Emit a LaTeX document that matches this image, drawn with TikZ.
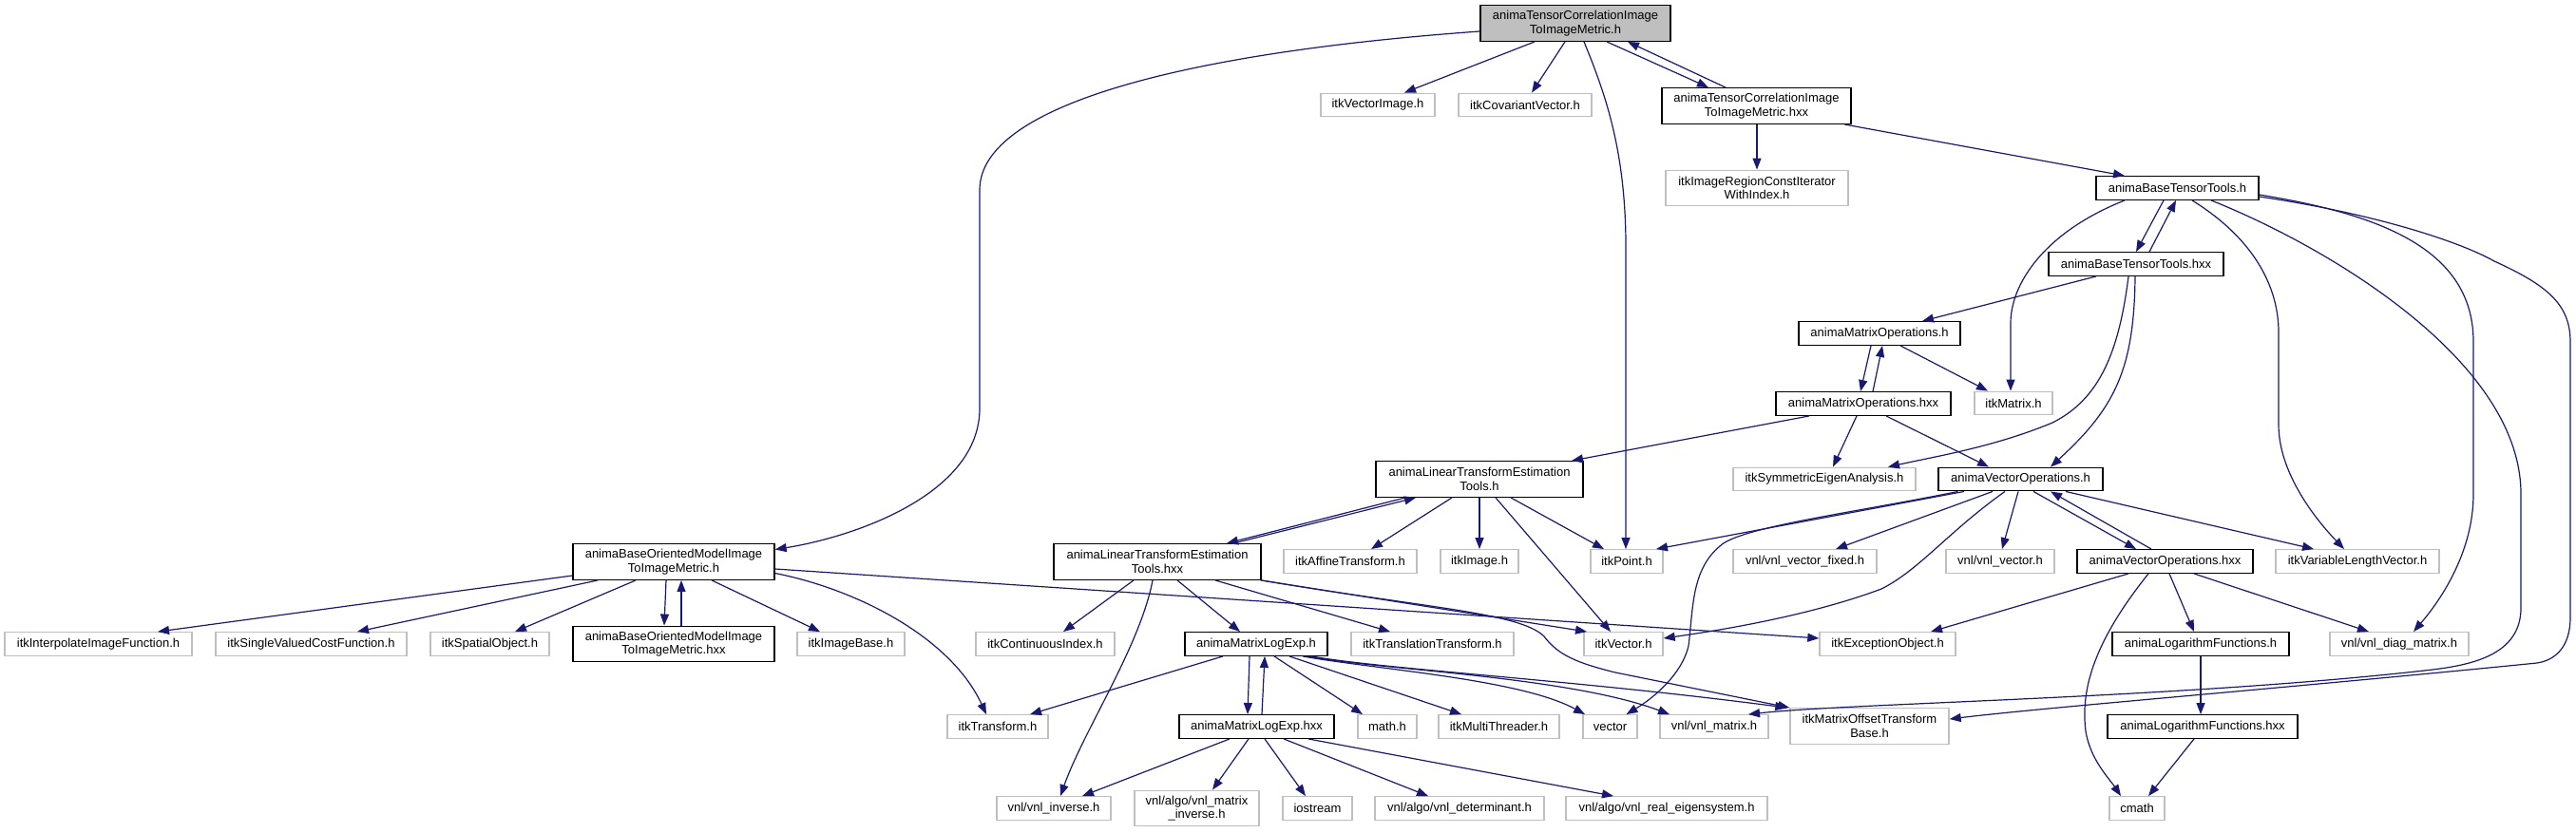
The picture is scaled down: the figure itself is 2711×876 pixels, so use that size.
\documentclass[tikz,border=0pt]{standalone}
\usepackage{fontspec}
\setmainfont{Liberation Sans}
\usetikzlibrary{arrows.meta}
\definecolor{edgeblue}{HTML}{191970}
\definecolor{extgrey}{HTML}{BFBFBF}
\begin{document}
\begin{tikzpicture}[x=1pt,y=-1pt,
  every node/.style={font=\fontsize{13}{14.5}\selectfont, inner sep=0pt, align=center},
  nd/.style={rectangle, minimum height=24.5pt, line width=1.4pt},
  intn/.style={nd, draw=black},
  extn/.style={nd, draw=extgrey},
  rootn/.style={nd, draw=black, fill=extgrey},
  tall/.style={minimum height=37.5pt},
  edge/.style={draw=edgeblue, line width=1.2pt, -{Triangle[length=12pt,width=9pt]}}
]
\useasboundingbox (0,0) rectangle (2711,876);
% row 1
\node[rootn,tall,minimum width=200pt] (main) at (1658,24.5) {animaTensorCorrelationImage\\ToImageMetric.h};
% row 2
\node[extn,minimum width=120pt] (vecimg) at (1450,110.5) {itkVectorImage.h};
\node[extn,minimum width=140pt] (covvec) at (1605,110.5) {itkCovariantVector.h};
\node[intn,tall,minimum width=199pt] (tchxx) at (1848.5,111.5) {animaTensorCorrelationImage\\ToImageMetric.hxx};
% row 3
\node[extn,tall,minimum width=192pt] (withidx) at (1849,198) {itkImageRegionConstIterator\\WithIndex.h};
\node[intn,minimum width=171pt] (btth) at (2291.5,198) {animaBaseTensorTools.h};
% row 4
\node[intn,minimum width=184pt] (btthxx) at (2248,278) {animaBaseTensorTools.hxx};
% row 5
\node[intn,minimum width=170pt] (moh) at (1978,351) {animaMatrixOperations.h};
% row 6
\node[intn,minimum width=184pt] (mohxx) at (1961,425) {animaMatrixOperations.hxx};
\node[extn,minimum width=82pt] (itkmatrix) at (2119,424.5) {itkMatrix.h};
% row 7
\node[intn,tall,minimum width=218pt] (ltet) at (1557,504.5) {animaLinearTransformEstimation\\Tools.h};
\node[extn,minimum width=192pt] (symeig) at (1920,504.5) {itkSymmetricEigenAnalysis.h};
\node[intn,minimum width=173pt] (avoh) at (2126.5,504.5) {animaVectorOperations.h};
% row 8
\node[intn,tall,minimum width=212pt] (bomh) at (709,591.5) {animaBaseOrientedModelImage\\ToImageMetric.h};
\node[intn,tall,minimum width=218pt] (ltethxx) at (1218,591.5) {animaLinearTransformEstimation\\Tools.hxx};
\node[extn,minimum width=140pt] (affine) at (1421,591) {itkAffineTransform.h};
\node[extn,minimum width=82pt] (itkimage) at (1557,591) {itkImage.h};
\node[extn,minimum width=76pt] (point) at (1712,591) {itkPoint.h};
\node[extn,minimum width=151pt] (vfixed) at (1899.5,591) {vnl/vnl\_vector\_fixed.h};
\node[extn,minimum width=114pt] (vnlvec) at (2105,591) {vnl/vnl\_vector.h};
\node[intn,minimum width=185pt] (avohxx) at (2278.5,591) {animaVectorOperations.hxx};
\node[extn,minimum width=172pt] (vlv) at (2481,591) {itkVariableLengthVector.h};
% row 9
\node[extn,minimum width=197pt] (interp) at (103.5,678) {itkInterpolateImageFunction.h};
\node[extn,minimum width=201pt] (svcf) at (327.5,678) {itkSingleValuedCostFunction.h};
\node[extn,minimum width=125pt] (spatial) at (515.5,678) {itkSpatialObject.h};
\node[intn,tall,minimum width=212pt] (bomhxx) at (709,678) {animaBaseOrientedModelImage\\ToImageMetric.hxx};
\node[extn,minimum width=113pt] (imgbase) at (895.5,678) {itkImageBase.h};
\node[extn,minimum width=146pt] (contidx) at (1100,678) {itkContinuousIndex.h};
\node[intn,minimum width=150pt] (mleh) at (1322,678) {animaMatrixLogExp.h};
\node[extn,minimum width=171pt] (transl) at (1507.5,678) {itkTranslationTransform.h};
\node[extn,minimum width=83pt] (itkvector) at (1708.5,678) {itkVector.h};
\node[extn,minimum width=143pt] (except) at (1986.5,678) {itkExceptionObject.h};
\node[intn,minimum width=186pt] (alfh) at (2316,678) {animaLogarithmFunctions.h};
\node[extn,minimum width=146pt] (diag) at (2525,678) {vnl/vnl\_diag\_matrix.h};
% row 10
\node[extn,minimum width=106pt] (transform) at (1050,765) {itkTransform.h};
\node[intn,minimum width=163pt] (mlehxx) at (1322.5,765) {animaMatrixLogExp.hxx};
\node[extn,minimum width=62pt] (math) at (1460,765) {math.h};
\node[extn,minimum width=127pt] (mthread) at (1577.5,765) {itkMultiThreader.h};
\node[extn,minimum width=57pt] (vector) at (1694.5,765) {vector};
\node[extn,minimum width=114pt] (vnlmat) at (1804,765) {vnl/vnl\_matrix.h};
\node[extn,tall,minimum width=167pt] (mtob) at (1967.5,764.5) {itkMatrixOffsetTransform\\Base.h};
\node[intn,minimum width=200pt] (alfhxx) at (2318,765) {animaLogarithmFunctions.hxx};
% row 11
\node[extn,minimum width=120pt] (vnlinv) at (1109,851) {vnl/vnl\_inverse.h};
\node[extn,tall,minimum width=131pt] (matinv) at (1259.5,851) {vnl/algo/vnl\_matrix\\\_inverse.h};
\node[extn,minimum width=73pt] (iostream) at (1386.5,851) {iostream};
\node[extn,minimum width=178pt] (det) at (1536,851) {vnl/algo/vnl\_determinant.h};
\node[extn,minimum width=212pt] (eig) at (1754,851) {vnl/algo/vnl\_real\_eigensystem.h};
\node[extn,minimum width=58pt] (cmath) at (2249,851) {cmath};

% ---- edges from main
\draw[edge] ([yshift=-8.5pt]main.west) .. controls (1250,55) and (1031,110) .. (1031,200) -- (1031,430) .. controls (1031,520) and (900,565) .. ([yshift=13pt]bomh.east);
\draw[edge] ([xshift=-43pt]main.south) -- ([xshift=28pt]vecimg.north);
\draw[edge] ([xshift=-11pt]main.south) -- ([xshift=7pt]covvec.north);
\draw[edge] ([xshift=9pt]main.south) .. controls (1690,100) and (1711,160) .. (1711,260) -- ([xshift=-1pt]point.north);
\draw[edge] ([xshift=33pt]main.south) -- ([xshift=-50.5pt]tchxx.north);
\draw[edge] ([xshift=-32.5pt]tchxx.north) -- ([xshift=55pt]main.south);
\draw[edge] ([xshift=0.5pt]tchxx.south) -- (withidx.north);
\draw[edge] ([xshift=92.5pt]tchxx.south) -- ([xshift=-55.5pt]btth.north);
% ---- btth
\draw[edge] ([xshift=-14.5pt]btth.south) -- (btthxx.north);
\draw[edge] ([xshift=14pt]btthxx.north) -- ([xshift=-1.5pt]btth.south);
\draw[edge] ([xshift=-55.5pt]btth.south) .. controls (2150,245) and (2116,300) .. (2116,340) -- ([xshift=-3pt]itkmatrix.north);
\draw[edge] ([xshift=15.5pt]btth.south) .. controls (2370,250) and (2398,300) .. (2398,350) -- (2398,447) .. controls (2398,500) and (2440,550) .. ([xshift=-14pt]vlv.north);
\draw[edge] ([xshift=35.5pt]btth.south) .. controls (2450,260) and (2653,380) .. (2653,520) -- (2653,640) .. controls (2653,690) and (2600,700) .. (2560,705) .. controls (2300,735) and (1950,740) .. ([xshift=36pt]vnlmat.north);
\draw[edge] ([yshift=-7pt]btth.east) .. controls (2500,225) and (2603,260) .. (2603,360) -- (2603,520) .. controls (2603,580) and (2570,630) .. ([xshift=15pt]diag.north);
\draw[edge] ([yshift=-9pt]btth.east) .. controls (2500,225) and (2590,255) .. (2625,275) .. controls (2680,300) and (2705,320) .. (2705,360) -- (2705,650) .. controls (2705,680) and (2690,695) .. (2670,698) .. controls (2400,725) and (2150,745) .. ([yshift=7.5pt]mtob.east);
% ---- btthxx
\draw[edge] ([xshift=-42pt]btthxx.south) -- ([xshift=45pt]moh.north);
\draw[edge] ([xshift=-8pt]btthxx.south) .. controls (2230,370) and (2210,420) .. (2160,445) .. controls (2100,470) and (2040,480) .. ([xshift=67pt]symeig.north);
\draw[edge] ([xshift=-1pt]btthxx.south) .. controls (2246,390) and (2225,430) .. ([xshift=31.5pt]avoh.north);
% ---- moh / mohxx
\draw[edge] ([xshift=-9pt]moh.south) -- ([xshift=-3pt]mohxx.north);
\draw[edge] ([xshift=10pt]mohxx.north) -- ([xshift=3pt]moh.south);
\draw[edge] ([xshift=22pt]moh.south) -- ([xshift=-27pt]itkmatrix.north);
\draw[edge] ([xshift=-57pt]mohxx.south) -- ([xshift=97pt]ltet.north);
\draw[edge] ([xshift=-7pt]mohxx.south) -- ([xshift=9pt]symeig.north);
\draw[edge] ([xshift=24pt]mohxx.south) -- ([xshift=-33.5pt]avoh.north);
% ---- ltet
\draw[edge] ([xshift=-78pt]ltet.south) -- ([xshift=73pt]ltethxx.north);
\draw[edge] ([xshift=80pt]ltethxx.north) -- ([xshift=-67pt]ltet.south);
\draw[edge] ([xshift=-29pt]ltet.south) -- ([xshift=22pt]affine.north);
\draw[edge] (ltet.south) -- (itkimage.north);
\draw[edge] ([xshift=17pt]ltet.south) -- ([xshift=-13.5pt]itkvector.north);
\draw[edge] ([xshift=33pt]ltet.south) -- ([xshift=-24pt]point.north);
% ---- avoh
\draw[edge] ([xshift=-59.5pt]avoh.south) -- ([xshift=31pt]point.north);
\draw[edge] ([xshift=-66pt]avoh.south) .. controls (1950,540) and (1830,555) .. (1810,575) .. controls (1780,600) and (1782,640) .. (1777,680) .. controls (1770,710) and (1740,735) .. ([xshift=17pt]vector.north);
\draw[edge] ([xshift=-16.5pt]avoh.south) .. controls (2050,560) and (2020,600) .. (1980,620) .. controls (1900,650) and (1800,665) .. ([yshift=6pt]itkvector.east);
\draw[edge] ([xshift=-29.5pt]avoh.south) -- ([xshift=32.5pt]vfixed.north);
\draw[edge] ([xshift=-2.5pt]avoh.south) -- ([xshift=2pt]vnlvec.north);
\draw[edge] ([xshift=13.5pt]avoh.south) -- ([xshift=-30.5pt]avohxx.north);
\draw[edge] ([xshift=-14.5pt]avohxx.north) -- ([xshift=31.5pt]avoh.south);
\draw[edge] ([xshift=47.5pt]avoh.south) -- ([xshift=-46pt]vlv.north);
% ---- avohxx
\draw[edge] ([xshift=-38.5pt]avohxx.south) -- ([xshift=45.5pt]except.north);
\draw[edge] ([xshift=-17.5pt]avohxx.south) .. controls (2200,680) and (2190,730) .. (2195,770) .. controls (2200,800) and (2220,820) .. ([xshift=-17pt]cmath.north);
\draw[edge] ([xshift=4.5pt]avohxx.south) -- ([xshift=-7pt]alfh.north);
\draw[edge] ([xshift=30.5pt]avohxx.south) -- ([xshift=-32pt]diag.north);
\draw[edge] (alfh.south) -- ([xshift=-2pt]alfhxx.north);
\draw[edge] ([xshift=-9pt]alfhxx.south) -- ([xshift=12pt]cmath.north);
% ---- bomh
\draw[edge] ([yshift=-14.5pt]bomh.west) -- ([xshift=62.5pt]interp.north);
\draw[edge] ([xshift=-80pt]bomh.south) -- ([xshift=48.5pt]svcf.north);
\draw[edge] ([xshift=-40pt]bomh.south) -- ([xshift=26.5pt]spatial.north);
\draw[edge] ([xshift=-8pt]bomh.south) -- ([xshift=-10pt]bomhxx.north);
\draw[edge] ([xshift=8pt]bomhxx.north) -- ([xshift=8pt]bomh.south);
\draw[edge] ([xshift=40pt]bomh.south) -- ([xshift=-32.5pt]imgbase.north);
\draw[edge] ([yshift=-12pt]bomh.east) .. controls (900,620) and (1000,670) .. ([xshift=-12pt]transform.north);
\draw[edge] ([yshift=-7.5pt]bomh.east) -- ([yshift=6pt]except.west);
% ---- ltethxx
\draw[edge] ([xshift=-25pt]ltethxx.south) -- ([xshift=19pt]contidx.north);
\draw[edge] ([xshift=-5pt]ltethxx.south) .. controls (1200,680) and (1140,770) .. ([xshift=7pt]vnlinv.north);
\draw[edge] ([xshift=21pt]ltethxx.south) -- ([xshift=-17pt]mleh.north);
\draw[edge] ([xshift=61pt]ltethxx.south) -- ([xshift=-44.5pt]transl.north);
\draw[edge] ([xshift=-1pt]ltethxx.south east) -- ([xshift=-38.5pt]itkvector.north);
\draw[edge] (ltethxx.south east) .. controls (1500,640) and (1600,645) .. (1625,670) .. controls (1640,690) and (1660,698) .. (1700,708) -- (mtob.north west);
% ---- mleh
\draw[edge] ([xshift=-35pt]mleh.south) -- ([xshift=34pt]transform.north);
\draw[edge] ([xshift=-7pt]mleh.south) -- ([xshift=-9.5pt]mlehxx.north);
\draw[edge] ([xshift=5.5pt]mlehxx.north) -- ([xshift=9pt]mleh.south);
\draw[edge] ([xshift=19pt]mleh.south) -- ([xshift=-26pt]math.north);
\draw[edge] ([xshift=35pt]mleh.south) -- ([xshift=-39.5pt]mthread.north);
\draw[edge] ([xshift=49pt]mleh.south) .. controls (1450,705) and (1600,715) .. ([xshift=-26.5pt]vector.north);
\draw[edge] ([xshift=53pt]mleh.south) .. controls (1450,705) and (1650,712) .. ([xshift=-47pt]vnlmat.north);
\draw[edge] ([xshift=58pt]mleh.south) .. controls (1460,705) and (1650,715) .. ([xshift=-3pt]mtob.north west);
% ---- mlehxx
\draw[edge] ([xshift=-28.5pt]mlehxx.south) -- ([xshift=30pt]vnlinv.north);
\draw[edge] ([xshift=-8.5pt]mlehxx.south) -- ([xshift=16.5pt]matinv.north);
\draw[edge] ([xshift=8.5pt]mlehxx.south) -- ([xshift=-12.5pt]iostream.north);
\draw[edge] ([xshift=28.5pt]mlehxx.south) -- ([xshift=-33pt]det.north);
\draw[edge] ([xshift=54.5pt]mlehxx.south) -- ([xshift=-56pt]eig.north);
\end{tikzpicture}
\end{document}
